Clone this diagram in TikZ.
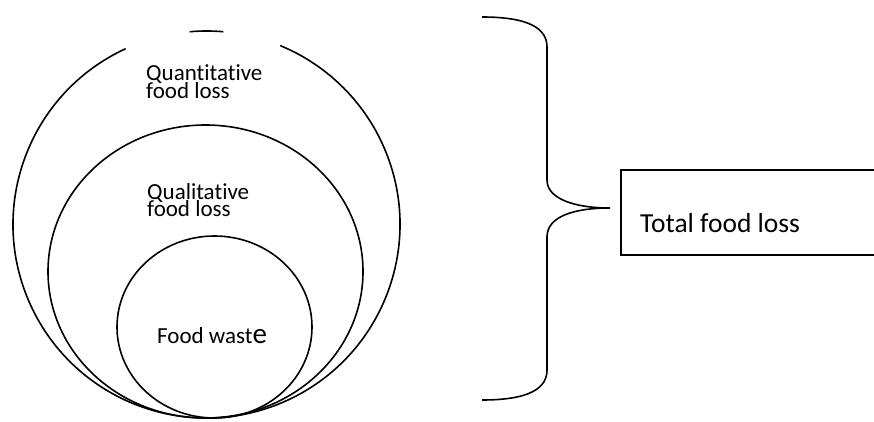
\documentclass[tikz,border=0pt]{standalone}
\usepackage{fontspec}
\setmainfont{Carlito}[Ligatures={NoCommon}]
\tikzset{
  curve/.style={line width=1.6pt, black},
  lbl/.style={anchor=base west, inner sep=0pt, font=\fontsize{23}{23}\selectfont},
  biglbl/.style={anchor=base west, inner sep=0pt, font=\fontsize{27.5}{27.5}\selectfont},
}
\begin{document}
\begin{tikzpicture}[x=1pt,y=1pt]
\useasboundingbox (0,0) rectangle (874,421);
% outer circle with a gap at the top
\draw[curve] (206.5,196.5) ++(114.7:193.5) arc[start angle=114.7, end angle=427.6, radius=193.5];
\draw[curve] (206.5,196.5) ++(85:193.5) arc[start angle=85, end angle=95, radius=193.5];
% middle ellipse
\draw[curve] (205.5,149.5) ellipse[x radius=157.5, y radius=146.5];
% inner ellipse
\draw[curve] (214.5,94) ellipse[x radius=97.5, y radius=91];
% labels
\node[lbl] (quant1) at (146,340) {Quantitative};
\node[lbl] (quant2) at (146,322) {food loss};
\node[lbl] (qual1) at (147,222) {Qualitative};
\node[lbl] (qual2) at (147,205) {food loss};
\node[lbl] (waste) at (157,78) {Food wast{\fontsize{29}{29}\selectfont e}};
% brace
\draw[curve] (482,404) .. controls (530,404) and (547,392) .. (547,374)
  -- (547,241) .. controls (547,222) and (575,213) .. (610,213)
  .. controls (575,213) and (547,205) .. (547,184)
  -- (547,51) .. controls (547,33) and (530,21) .. (482,21);
% box
\draw[curve] (621,166) rectangle (890,251);
\node[biglbl] (total) at (640,189) {Total food loss};
\end{tikzpicture}
\end{document}
